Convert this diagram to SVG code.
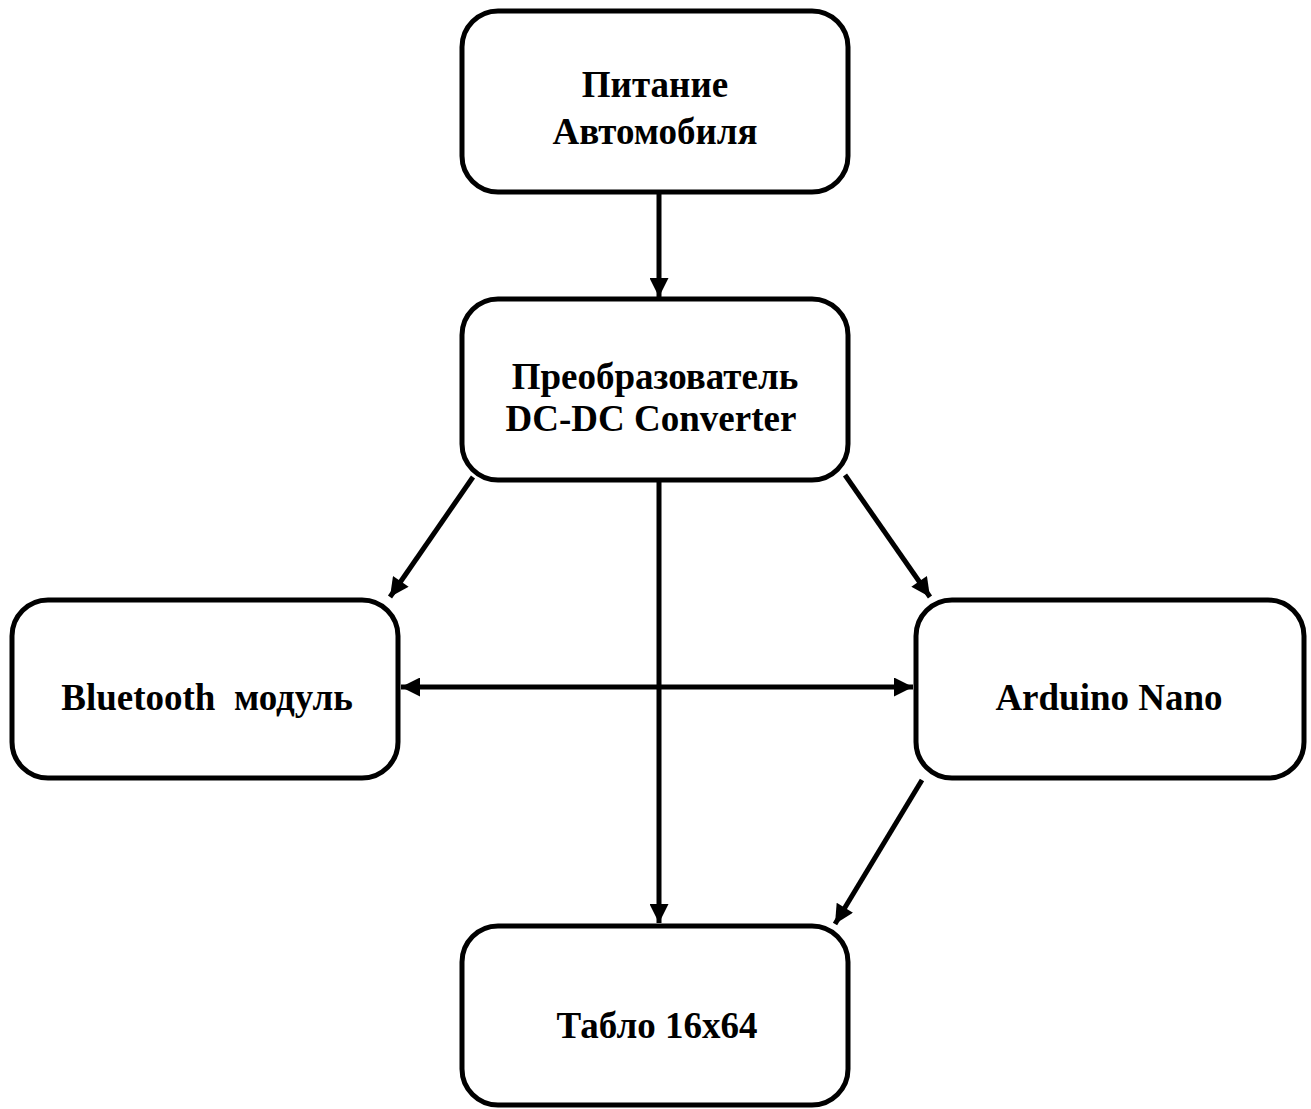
<svg xmlns="http://www.w3.org/2000/svg" width="1311" height="1109" viewBox="0 0 1311 1109">
<style>
.box{fill:#fff;stroke:#000;stroke-width:5}
.t{font-family:"Liberation Serif","Times New Roman",serif;font-weight:bold;font-size:37px;text-anchor:middle;fill:#000}
.c{stroke:#000;stroke-width:5;fill:none}
</style>
<defs>
<marker id="ah" viewBox="0 0 10 10" refX="10" refY="5" markerWidth="4.6" markerHeight="3.8" markerUnits="strokeWidth" orient="auto-start-reverse">
<path d="M0,0 L10,5 L0,10 z" fill="#000"/>
</marker>
</defs>
<rect width="1311" height="1109" fill="#fff"/>
<g id="connectors">
<line class="c" x1="659" y1="192" x2="659" y2="297" marker-end="url(#ah)"/>
<line class="c" x1="473" y1="477" x2="390" y2="597" marker-end="url(#ah)"/>
<line class="c" x1="845" y1="475" x2="930" y2="597" marker-end="url(#ah)"/>
<line class="c" x1="659" y1="482" x2="659" y2="923" marker-end="url(#ah)"/>
<line class="c" x1="401" y1="687" x2="913" y2="687" marker-start="url(#ah)" marker-end="url(#ah)"/>
<line class="c" x1="922" y1="780" x2="835" y2="924" marker-end="url(#ah)"/>
</g>
<g id="n1"><rect class="box" x="462" y="11" width="386" height="181" rx="36"/>
<text class="t" x="655" y="97">Питание</text><text class="t" x="655" y="144">Автомобиля</text></g>
<g id="n2"><rect class="box" x="462" y="299" width="386" height="181" rx="36"/>
<text class="t" x="655" y="389">Преобразователь</text><text class="t" x="651" y="431">DC-DC Converter</text></g>
<g id="n3"><rect class="box" x="12" y="600" width="386" height="178" rx="36"/>
<text class="t" x="207" y="710" xml:space="preserve">Bluetooth  модуль</text></g>
<g id="n4"><rect class="box" x="916" y="600" width="388" height="178" rx="36"/>
<text class="t" x="1109" y="710">Arduino Nano</text></g>
<g id="n5"><rect class="box" x="462" y="926" width="386" height="179" rx="36"/>
<text class="t" x="657" y="1038">Табло 16х64</text></g>
</svg>
